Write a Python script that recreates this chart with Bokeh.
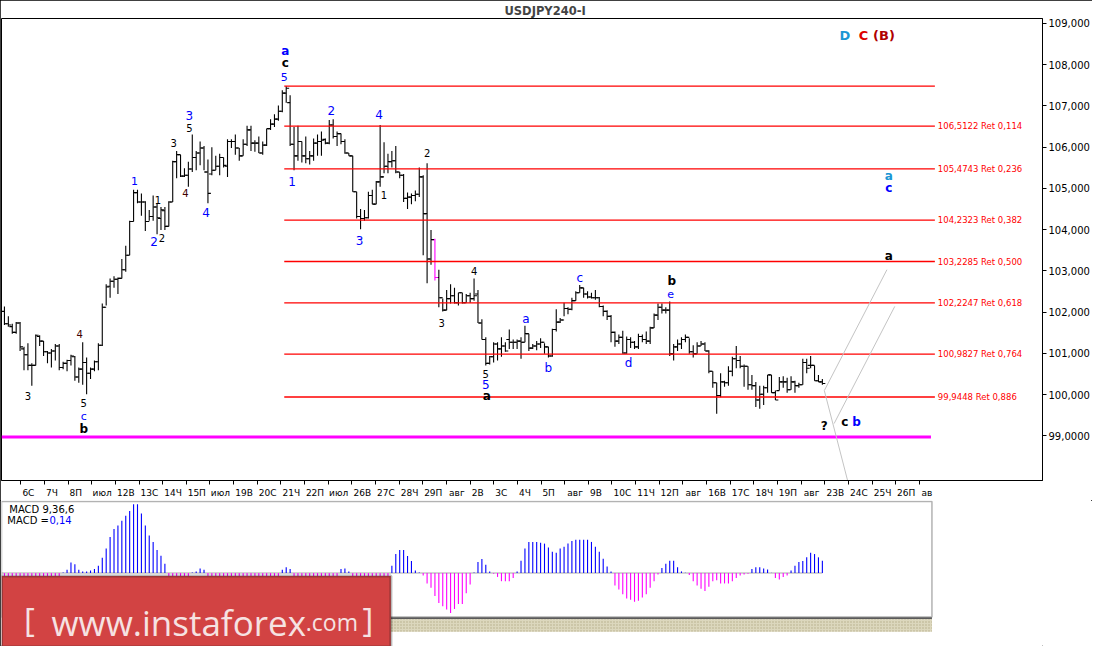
from bokeh.plotting import figure
from bokeh.models import (ColumnDataSource, Range1d, FixedTicker, CustomJSTickFormatter,
                          Label, BoxAnnotation)
from bokeh.layouts import column
from bokeh.embed import file_html
from bokeh.resources import INLINE
from bokeh.core.properties import value

FONT = "DejaVu Sans"

# ---------------- data (USDJPY, 4h bars) ----------------
opens = [
    102.02, 101.72, 101.65, 101.51, 101.74, 101.11, 100.97, 100.71, 100.71, 101.41,
    101.30, 101.04, 101.01, 101.06, 101.18, 100.66, 100.76, 100.83, 100.92, 100.43,
    100.62, 100.78, 100.52, 100.62, 100.80, 101.20, 102.12, 102.63, 102.75, 102.80,
    102.82, 103.03, 103.38, 104.20, 104.90, 104.67, 104.67, 104.20, 104.32, 104.55,
    104.27, 104.46, 104.08, 104.67, 105.65, 105.82, 105.30, 105.32, 105.47, 105.75,
    105.86, 105.98, 105.40, 105.35, 105.44, 105.54, 105.75, 105.54, 106.14, 106.14,
    105.98, 105.79, 106.07, 106.42, 106.10, 106.10, 105.86, 106.05, 106.45, 106.56,
    106.68, 106.87, 107.31, 107.08, 106.07, 105.79, 106.14, 105.79, 105.72, 105.79,
    106.10, 106.14, 106.19, 106.10, 106.54, 106.26, 106.33, 106.14, 105.86, 105.79,
    104.92, 104.32, 104.27, 104.29, 104.83, 104.62, 105.16, 105.28, 105.54, 105.65,
    105.67, 105.40, 105.32, 104.76, 104.79, 104.83, 104.86, 105.28, 104.39, 103.29,
    103.76, 102.84, 102.35, 102.05, 102.33, 102.40, 102.23, 102.47, 102.23, 102.40,
    102.33, 102.44, 101.74, 101.34, 100.76, 100.92, 101.23, 101.11, 101.18, 101.34,
    101.27, 101.27, 101.30, 101.27, 101.48, 101.13, 101.18, 101.23, 101.27, 101.16,
    100.94, 101.58, 101.76, 101.81, 102.09, 102.07, 102.28, 102.47, 102.59, 102.44,
    102.37, 102.35, 102.35, 102.14, 102.02, 101.90, 101.51, 101.30, 101.39, 101.01,
    101.34, 101.27, 101.16, 101.41, 101.34, 101.30, 101.62, 101.93, 102.12, 102.05,
    102.05, 100.99, 101.16, 101.23, 101.34, 101.39, 101.04, 100.99, 101.18, 101.23,
    101.06, 100.57, 100.29, 99.98, 100.31, 100.29, 100.57, 100.87, 100.83, 100.69,
    100.69, 100.24, 100.22, 99.87, 100.01, 100.17, 100.48, 100.05, 100.10, 100.31,
    100.31, 100.12, 100.31, 100.22, 100.24, 100.78, 100.71, 100.71, 100.34, 100.31,
]
highs = [
    102.14, 101.90, 101.72, 101.76, 101.76, 101.16, 101.25, 100.76, 101.46, 101.44,
    101.30, 101.06, 101.11, 101.23, 101.23, 100.80, 100.85, 100.97, 100.94, 100.66,
    101.27, 100.90, 100.66, 100.83, 101.25, 102.21, 102.68, 102.82, 102.87, 102.84,
    103.29, 103.61, 104.22, 104.97, 104.97, 104.88, 104.69, 104.48, 104.83, 104.64,
    104.55, 104.55, 104.69, 105.67, 105.91, 105.82, 105.49, 105.65, 106.31, 105.91,
    106.14, 106.03, 105.70, 106.00, 105.79, 105.84, 105.75, 106.19, 106.19, 106.31,
    105.98, 106.19, 106.52, 106.52, 106.17, 106.26, 106.14, 106.45, 106.68, 106.80,
    107.01, 107.38, 107.48, 107.26, 106.49, 106.52, 106.14, 106.26, 105.91, 106.21,
    106.31, 106.38, 106.21, 106.66, 106.68, 106.38, 106.33, 106.19, 105.86, 105.79,
    104.92, 104.50, 104.48, 104.92, 104.97, 105.18, 106.54, 106.12, 105.84, 105.91,
    106.03, 105.40, 105.35, 104.90, 104.88, 104.95, 105.51, 105.32, 105.61, 103.99,
    103.78, 103.03, 102.33, 102.54, 102.68, 102.59, 102.47, 102.47, 102.44, 102.47,
    102.82, 102.54, 101.83, 101.39, 100.94, 101.27, 101.27, 101.39, 101.27, 101.58,
    101.34, 101.34, 101.39, 101.67, 101.48, 101.23, 101.30, 101.37, 101.25, 101.16,
    101.60, 102.07, 101.86, 102.23, 102.12, 102.35, 102.51, 102.66, 102.59, 102.51,
    102.47, 102.54, 102.37, 102.16, 102.05, 101.93, 101.53, 101.46, 101.55, 101.41,
    101.39, 101.30, 101.48, 101.46, 101.53, 101.65, 101.97, 102.21, 102.21, 102.12,
    102.26, 101.23, 101.34, 101.39, 101.46, 101.37, 101.20, 101.27, 101.30, 101.27,
    101.08, 100.57, 100.29, 100.52, 100.34, 100.69, 100.92, 101.18, 100.94, 100.73,
    100.69, 100.48, 100.31, 100.22, 100.22, 100.48, 100.48, 100.10, 100.43, 100.45,
    100.41, 100.45, 100.34, 100.29, 100.87, 100.87, 100.94, 100.71, 100.48, 100.38,
]
lows = [
    101.69, 101.65, 101.48, 101.48, 101.06, 100.59, 100.59, 100.22, 100.71, 101.18,
    100.94, 100.76, 100.66, 100.83, 100.59, 100.62, 100.57, 100.71, 100.34, 100.29,
    100.24, 100.01, 100.38, 100.57, 100.59, 101.18, 102.16, 102.35, 102.59, 102.44,
    102.82, 102.98, 103.38, 104.20, 104.64, 104.34, 103.97, 104.22, 104.22, 103.89,
    103.99, 103.99, 104.08, 104.67, 105.25, 105.28, 105.28, 105.04, 105.40, 105.44,
    105.56, 105.44, 104.64, 105.32, 105.44, 105.32, 105.51, 105.28, 105.98, 105.82,
    105.67, 105.79, 106.03, 105.91, 105.89, 105.86, 105.82, 106.03, 106.42, 106.49,
    106.64, 106.85, 107.08, 106.03, 105.44, 105.67, 105.63, 105.61, 105.58, 105.67,
    105.79, 105.79, 106.07, 106.07, 106.21, 106.03, 106.07, 105.84, 105.79, 104.92,
    104.27, 104.01, 104.22, 104.27, 104.62, 104.62, 105.04, 105.37, 105.37, 105.51,
    105.37, 105.25, 104.67, 104.50, 104.62, 104.69, 104.79, 103.38, 102.70, 103.15,
    102.77, 102.12, 102.02, 102.05, 102.21, 102.21, 102.16, 102.21, 102.23, 102.23,
    102.28, 101.74, 101.34, 100.71, 100.73, 100.78, 100.83, 100.92, 101.04, 101.11,
    101.11, 101.11, 100.87, 101.27, 101.06, 101.11, 101.08, 101.13, 100.99, 100.90,
    100.92, 101.53, 101.74, 101.90, 101.95, 102.05, 102.28, 102.47, 102.35, 102.33,
    102.33, 102.30, 102.12, 101.90, 101.81, 101.27, 101.16, 101.23, 100.99, 100.99,
    101.13, 101.11, 101.11, 101.27, 101.23, 101.23, 101.62, 101.81, 101.97, 101.97,
    100.94, 100.83, 101.06, 101.11, 101.27, 100.99, 100.90, 100.99, 101.18, 101.06,
    100.52, 100.17, 99.54, 99.94, 100.19, 100.22, 100.45, 100.64, 100.64, 100.19,
    100.12, 100.12, 99.70, 99.66, 99.75, 100.05, 100.05, 99.87, 100.10, 100.17,
    100.05, 100.12, 100.05, 100.17, 100.24, 100.52, 100.64, 100.34, 100.31, 100.24,
]
closes = [
    101.72, 101.69, 101.51, 101.74, 101.16, 100.97, 100.71, 100.71, 101.44, 101.30,
    101.04, 101.01, 101.06, 101.18, 100.66, 100.76, 100.83, 100.94, 100.43, 100.62,
    100.78, 100.52, 100.62, 100.80, 101.20, 102.12, 102.61, 102.75, 102.80, 102.82,
    103.03, 103.38, 104.20, 104.90, 104.67, 104.67, 104.20, 104.32, 104.55, 104.29,
    104.48, 104.08, 104.67, 105.65, 105.82, 105.30, 105.32, 105.47, 105.75, 105.86,
    105.98, 105.40, 104.88, 105.44, 105.54, 105.75, 105.56, 106.14, 106.14, 105.98,
    105.79, 106.07, 106.42, 106.10, 106.10, 105.86, 106.05, 106.45, 106.56, 106.68,
    106.87, 107.31, 107.43, 106.07, 105.79, 106.14, 105.79, 105.72, 105.79, 106.10,
    106.14, 106.17, 106.10, 106.54, 106.26, 106.33, 106.14, 105.86, 105.79, 104.92,
    104.32, 104.27, 104.29, 104.83, 104.62, 105.16, 105.28, 105.54, 105.65, 105.67,
    105.40, 105.32, 104.76, 104.79, 104.83, 104.86, 105.28, 104.39, 103.29, 103.76,
    102.84, 102.35, 102.05, 102.33, 102.40, 102.23, 102.47, 102.23, 102.40, 102.33,
    102.40, 101.74, 101.34, 100.76, 100.92, 101.23, 101.11, 101.18, 101.06, 101.27,
    101.27, 101.30, 101.27, 101.48, 101.13, 101.18, 101.23, 101.27, 101.16, 100.94,
    101.58, 101.76, 101.81, 102.09, 102.07, 102.28, 102.47, 102.59, 102.44, 102.37,
    102.35, 102.35, 102.14, 102.02, 101.90, 101.51, 101.30, 101.39, 101.01, 101.34,
    101.27, 101.16, 101.41, 101.34, 101.30, 101.62, 101.93, 102.12, 102.05, 102.05,
    100.99, 101.16, 101.23, 101.34, 101.39, 101.04, 100.99, 101.18, 101.23, 101.06,
    100.57, 100.29, 99.98, 100.31, 100.29, 100.57, 100.87, 100.83, 100.69, 100.69,
    100.24, 100.22, 99.87, 100.01, 100.17, 100.48, 100.05, 99.87, 100.31, 100.31,
    100.12, 100.31, 100.22, 100.24, 100.78, 100.64, 100.71, 100.34, 100.31, 100.27,
]
macd_hist = [
    -0.04, -0.06, -0.09, -0.12, -0.14, -0.15, -0.15, -0.14, -0.12, -0.10,
    -0.09, -0.07, -0.06, -0.05, -0.04,
    0.007, 0.037, 0.117, 0.099, 0.037, 0.018, 0.018, 0.029, 0.044, 0.081,
    0.172, 0.275, 0.404, 0.495, 0.532, 0.587, 0.642, 0.697, 0.771, 0.771,
    0.668, 0.532, 0.422, 0.349, 0.257, 0.195, 0.103,
    -0.04, -0.07, -0.09, -0.09, -0.07, -0.04,
    0.007, 0.018, 0.051, 0.037,
    -0.04, -0.08, -0.12, -0.15, -0.16, -0.16, -0.15, -0.13, -0.12, -0.11,
    -0.10, -0.10, -0.09, -0.09, -0.08, -0.07, -0.06, -0.05, -0.04,
    0.037, 0.066, 0.044,
    -0.05, -0.12, -0.20, -0.26, -0.29, -0.29, -0.26, -0.22, -0.17, -0.12, -0.08, -0.04,
    0.044, 0.051, 0.018,
    -0.05, -0.12, -0.22, -0.30, -0.34, -0.33, -0.28, -0.20, -0.12, -0.05,
    0.081, 0.213, 0.257, 0.257, 0.191, 0.136, 0.029, 0.007,
    -0.029, -0.117, -0.165, -0.257, -0.338, -0.374, -0.411, -0.448, -0.404, -0.349,
    -0.349, -0.228, -0.128, 0.007, 0.125, 0.158, 0.092, 0.018,
    -0.007, -0.044, -0.092, -0.092, -0.092, -0.055,
    0.018, 0.139, 0.275, 0.349, 0.349, 0.349, 0.34,
    0.330, 0.286, 0.239, 0.228, 0.275, 0.294, 0.330, 0.360, 0.374, 0.374,
    0.374, 0.374, 0.349, 0.294, 0.239, 0.161, 0.073, 0.018, -0.139, -0.184,
    -0.239, -0.286, -0.301, -0.323, -0.312, -0.275, -0.239, -0.165, -0.092, -0.018,
    0.055, 0.103, 0.139, 0.139, 0.066, 0.018, 0.003, -0.022, -0.092, -0.139,
    -0.176, -0.202, -0.154, -0.092, -0.081, -0.117, -0.117, -0.117, -0.092, -0.055,
    -0.029, -0.018, -0.007, 0.044, 0.066, 0.066, 0.051, 0.040, 0.002, -0.055,
    -0.073, -0.044, -0.029, 0.029, 0.081, 0.125, 0.136, 0.176, 0.228, 0.213,
    0.176, 0.139,
]
x_labels = ["6С", "7Ч", "8П", "июл", "12В", "13С", "14Ч", "15П", "июл", "19В",
            "20С", "21Ч", "22П", "июл", "26В", "27С", "28Ч", "29П", "авг", "2В",
            "3С", "4Ч", "5П", "авг", "9В", "10С", "11Ч", "12П", "авг", "16В",
            "17С", "18Ч", "19П", "авг", "23В", "24С", "25Ч", "26П", "ав"]
y_ticks = [99, 100, 101, 102, 103, 104, 105, 106, 107, 108, 109]
fib_levels = [107.4819, 106.5122, 105.4743, 104.2323, 103.2285, 102.2247, 100.9827, 99.9448]
fib_ratios = [0.0, 0.114, 0.236, 0.382, 0.500, 0.618, 0.764, 0.886]
support_level = 98.975
last_price = 100.26
macd_params = "9,36,6"
macd_now = 0.14
highlight_bar = 111

# projection lines (bar index, price)
proj_x0 = [210.5, 213.0, 210.5]
proj_y0 = [100.10, 99.30, 100.10]
proj_x1 = [226.5, 228.5, 216.5]
proj_y1 = [103.03, 102.14, 97.90]

# wave labels
wave_text = ["a", "c", "5", "1", "2", "1", "2", "3", "3", "5", "4", "4", "2", "1", "3", "4",
             "1", "2", "3", "4", "5", "5", "a", "a", "b", "c", "d", "b", "e", "3", "4", "5",
             "c", "b", "D", "C", "(B)", "a", "c", "a", "?", "c", "b"]
wave_x = [72.75, 72.75, 72.5, 34.25, 39.25, 40.25, 41.25, 44.25, 48.25, 48.25, 47.25, 52.5,
          84.5, 74.5, 91.75, 96.75, 98, 109, 112.75, 121, 124, 124, 124.25, 134.25, 140,
          148, 160.5, 171.5, 171.25, 7, 20.25, 21.25, 21.25, 21.25, 215.75, 220.5, 225.75,
          227, 227, 227, 210.5, 215.75, 218.75]
wave_y = [108.34, 108.04, 107.69, 105.18, 103.71, 104.71, 103.80, 106.10, 106.78, 106.47,
          104.88, 104.41, 106.89, 105.16, 103.75, 106.80, 104.85, 105.86, 101.74, 103.00,
          100.50, 100.24, 99.96, 101.83, 100.64, 102.82, 100.76, 102.75, 102.44, 99.96,
          101.48, 99.80, 99.47, 99.16, 108.70, 108.70, 108.70, 105.30, 105.02, 103.36,
          99.23, 99.35, 99.35]
B, K, M, S = "#0000ff", "#000000", "#400000", "#1a96d4"
wave_color = [B, K, B, B, B, K, K, K, B, K, M, B, B, B, B, B,
              K, K, K, K, K, B, K, B, B, B, B, K, B, K, M, K,
              B, K, S, "#dd0000", "#b00000", S, B, K, K, K, B]
wave_size = ["12px", "12px", "11px", "11px", "12px", "10px", "10px", "10px", "12px", "10px",
             "10px", "12px", "12px", "12px", "12px", "12px", "10px", "10px", "10px", "10px",
             "10px", "12px", "12px", "12px", "12px", "12px", "12px", "12px", "11px", "10px",
             "10px", "10px", "11px", "12px", "13px", "13px", "13px", "12px", "12px", "12px",
             "12px", "12px", "12px"]
wave_bold = [1, 1, 0, 0, 0, 0, 0, 0, 0, 0, 0, 0, 0, 0, 0, 0, 0, 0, 0, 0, 0, 0, 1, 0, 0, 0,
             0, 1, 0, 0, 0, 0, 0, 1, 1, 1, 1, 1, 1, 1, 1, 1, 1]

# ---------------- main price chart ----------------
n = len(closes)
bars = list(range(1, n + 1))
x_range = Range1d(0.25, 266.25)

pA = figure(width=1092, height=500, x_range=x_range, y_range=Range1d(97.92, 109.12),
            y_axis_location="right", toolbar_location=None, output_backend="svg",
            min_border_left=1, min_border_right=48, min_border_top=18, min_border_bottom=16,
            title="USDJPY240-I")
pA.grid.visible = False
pA.outline_line_color = "black"
pA.background_fill_color = "white"
pA.title.align = "left"
pA.title.offset = 503
pA.title.text_font = FONT
pA.title.text_font_size = "11.5px"
pA.title.text_font_style = "bold"
pA.title.standoff = 2

ohlc = ColumnDataSource(dict(
    x=bars, xl=[b - 0.75 for b in bars], xr=[b + 0.75 for b in bars],
    o=opens, h=highs, l=lows, c=closes,
    col=["#ff00ff" if b == highlight_bar else "#000000" for b in bars]))
pA.segment(x0="x", y0="l", x1="x", y1="h", line_color="col", line_width=1.1, source=ohlc)
pA.segment(x0="xl", y0="o", x1="x", y1="o", line_color="col", line_width=1.1, source=ohlc)
pA.segment(x0="x", y0="c", x1="xr", y1="c", line_color="col", line_width=1.1, source=ohlc)

# fibonacci retracement lines
for lv in fib_levels:
    pA.line(x=[72.5, 238.75], y=[lv, lv], line_color="#ff0000", line_width=1.3)
fib_text = [f"{lv:.4f} Ret {r:.3f}".replace(".", ",") for lv, r in zip(fib_levels[1:], fib_ratios[1:])]
pA.text(x=[239.5] * (len(fib_levels) - 1), y=fib_levels[1:], text=fib_text,
        text_color="#ff0000", text_font=value(FONT), text_font_size="8.5px",
        text_baseline="middle", text_align="left")

# support line
pA.line(x=[0.25, 237.75], y=[support_level, support_level], line_color="#ff00ff", line_width=3)

# projections
pA.segment(x0=proj_x0, y0=proj_y0, x1=proj_x1, y1=proj_y1, line_color="#c4c4c4", line_width=1)

# wave labels
groups = {}
for t, x, y, c, s, bd in zip(wave_text, wave_x, wave_y, wave_color, wave_size, wave_bold):
    groups.setdefault((s, bd), []).append((t, x, y, c))
for (s, bd), items in groups.items():
    pA.text(x=[it[1] for it in items], y=[it[2] for it in items], text=[it[0] for it in items],
            text_color=[it[3] for it in items], text_font=value(FONT), text_font_size=s,
            text_font_style="bold" if bd else "normal", text_align="center",
            text_baseline="middle")

# current price tag
pA.add_layout(Label(x=266.25, y=last_price, x_offset=1, text=f"{last_price:.3f}".replace(".", ","),
                    text_font=FONT, text_font_size="10px", text_baseline="middle",
                    text_color="black", background_fill_color="#ffff00"))

# x axis (time labels)
tick_px0, tick_step, px_per_bar = 20.7, 24.17, 4.0
marks = [(tick_px0 + tick_step * k) / px_per_bar for k in range(len(x_labels))]
centers = [m + (2 + 2.9 * len(t)) / px_per_bar for m, t in zip(marks, x_labels)]
xa = pA.xaxis[0]
xa.ticker = FixedTicker(ticks=centers, minor_ticks=marks)
xa.formatter = CustomJSTickFormatter(args=dict(labels=x_labels), code="return labels[index];")
xa.major_tick_out = 0
xa.major_tick_in = 0
xa.minor_tick_out = 4
xa.minor_tick_in = 0
xa.minor_tick_line_color = "black"
xa.axis_line_color = "black"
xa.major_label_standoff = 3
xa.major_label_text_font = FONT
xa.major_label_text_font_size = "9px"
xa.major_label_text_color = "black"

ya = pA.yaxis[0]
ya.ticker = FixedTicker(ticks=y_ticks)
ya.formatter = CustomJSTickFormatter(
    code="const s = tick < 100 ? tick.toFixed(4) : tick.toFixed(3); return s.replace('.', ',');")
ya.major_tick_out = 4
ya.major_tick_in = 0
ya.minor_tick_out = 0
ya.axis_line_color = "black"
ya.major_label_standoff = 2
ya.major_label_text_font = FONT
ya.major_label_text_font_size = "10px"
ya.major_label_text_color = "black"

# ---------------- MACD panel ----------------
pB = figure(width=1092, height=146, x_range=x_range, y_range=Range1d(-0.825, 0.814),
            toolbar_location=None, output_backend="svg", x_axis_location=None,
            y_axis_location=None, min_border_left=1, min_border_right=48,
            min_border_top=0, min_border_bottom=0)
pB.grid.visible = False
pB.outline_line_color = None

mb = list(range(1, len(macd_hist) + 1))
pB.line(x=[0.25, len(macd_hist)], y=[0, 0], line_color="#a8a8a8", line_width=1)
msrc = ColumnDataSource(dict(x=mb, y0=[0] * len(mb), y1=macd_hist,
                             col=["#0000ff" if v > 0 else "#ff00ff" for v in macd_hist]))
pB.segment(x0="x", y0="y0", x1="x", y1="y1", line_color="col", line_width=1.1, source=msrc)

pB.add_layout(BoxAnnotation(left=0.25, right=238, top=0.803, bottom=-0.495,
                            fill_alpha=0, line_color="black", line_width=1.5))
pB.add_layout(Label(x=2.25, y=0.715, text=f"MACD {macd_params}", text_font=FONT,
                    text_font_size="10px", text_color="black", text_baseline="middle"))
pB.add_layout(Label(x=1.75, y=0.594, text="MACD =", text_font=FONT,
                    text_font_size="10px", text_color="black", text_baseline="middle"))
pB.add_layout(Label(x=12.5, y=0.594, text=f"{macd_now:.2f}".replace(".", ","), text_font=FONT,
                    text_font_size="10px", text_color="#0000ff", text_baseline="middle"))

# hatched strip under the panel
pB.add_layout(BoxAnnotation(left=99.75, right=238, top=-0.497, bottom=-0.52,
                            fill_color="#5a5a5a", fill_alpha=1, line_color=None))
pB.add_layout(BoxAnnotation(left=99.75, right=238, top=-0.52, bottom=-0.66,
                            fill_color="#dcd7bd", fill_alpha=1, line_color=None,
                            hatch_pattern="dot", hatch_color="#b3ab88", hatch_scale=3,
                            hatch_weight=1))

# logo box
pB.add_layout(BoxAnnotation(left=0.25, right=99.75, top=-0.033, bottom=-0.83,
                            fill_color="#d24343", fill_alpha=1, line_color="#1c1c1c",
                            line_width=3))
logo_col = "#f6e2e2"
pB.add_layout(Label(x=6.0, y=-0.52, text="[", text_font="Open Sans", text_font_size="33px",
                    text_color=logo_col, text_baseline="middle"))
pB.add_layout(Label(x=13.0, y=-0.55, text="www.instaforex", text_font="Open Sans",
                    text_font_size="35px", text_color=logo_col, text_baseline="alphabetic"))
pB.add_layout(Label(x=78.0, y=-0.55, text=".com", text_font="Open Sans",
                    text_font_size="23px", text_color=logo_col, text_baseline="alphabetic"))
pB.add_layout(Label(x=92.5, y=-0.52, text="]", text_font="Open Sans", text_font_size="33px",
                    text_color=logo_col, text_baseline="middle"))

layout = column(pA, pB, styles={"outline": "1px solid #000", "outline-offset": "-1px"})
open("out.html", "w").write(file_html(layout, INLINE))
